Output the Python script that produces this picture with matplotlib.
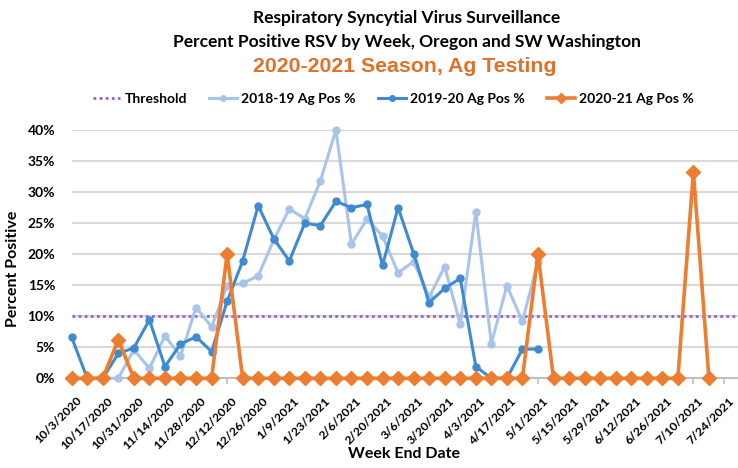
import numpy as np
import matplotlib.pyplot as plt
import matplotlib.transforms as mtransforms
from matplotlib.lines import Line2D
from matplotlib.ticker import PercentFormatter

# week end dates, 10/3/2020 .. 7/24/2021
weeks = ["10/3/2020", "10/10/2020", "10/17/2020", "10/24/2020", "10/31/2020", "11/7/2020",
         "11/14/2020", "11/21/2020", "11/28/2020", "12/5/2020", "12/12/2020", "12/19/2020",
         "12/26/2020", "1/2/2021", "1/9/2021", "1/16/2021", "1/23/2021", "1/30/2021",
         "2/6/2021", "2/13/2021", "2/20/2021", "2/27/2021", "3/6/2021", "3/13/2021",
         "3/20/2021", "3/27/2021", "4/3/2021", "4/10/2021", "4/17/2021", "4/24/2021",
         "5/1/2021", "5/8/2021", "5/15/2021", "5/22/2021", "5/29/2021", "6/5/2021",
         "6/12/2021", "6/19/2021", "6/26/2021", "7/3/2021", "7/10/2021", "7/17/2021",
         "7/24/2021"]

threshold = 10.0

pos_1819 = [None, None, 0.0, 0.0, 4.6, 1.6, 6.8, 3.6, 11.4, 8.3, 14.9, 15.3, 16.5, 22.3,
            27.3, 25.7, 31.8, 40.0, 21.6, 25.7, 22.9, 17.0, 18.8, 13.1, 18.0, 8.7, 26.8,
            5.6, 14.9, 9.2, 18.8]

pos_1920 = [6.6, 0.0, 0.0, 4.0, 4.9, 9.4, 1.9, 5.5, 6.7, 4.3, 12.4, 18.9, 27.8, 22.5,
            18.9, 25.0, 24.6, 28.5, 27.5, 28.0, 18.2, 27.5, 20.1, 12.2, 14.5, 16.1, 1.9,
            0.0, 0.0, 4.7, 4.7]

pos_2021 = [0, 0, 0, 6.25, 0, 0, 0, 0, 0, 0, 20.0, 0, 0, 0, 0, 0, 0, 0, 0, 0, 0, 0, 0,
            0, 0, 0, 0, 0, 0, 0, 20.0, 0, 0, 0, 0, 0, 0, 0, 0, 0, 33.3, 0]

c_light = "#a9c4ea"
c_dark = "#3f8ad0"
c_orange = "#ed7d31"
c_purple = "#9264cc"

plt.rcParams['font.family'] = ['Lato', 'DejaVu Sans']
plt.rcParams['font.weight'] = 'bold'

fig = plt.figure(figsize=(7.38, 4.68), dpi=100)
ax = fig.add_axes([71.7/738, 89.7/468, 1-71.7/738, 248.3/468])

def series(vals):
    y = np.array([np.nan if v is None else v for v in vals], dtype=float)
    return np.arange(len(y)), y

ax.axhline(threshold, color=c_purple, linestyle=(0, (1, 1.2)), linewidth=2, zorder=2)
x, y = series(pos_1819)
ax.plot(x, y, color=c_light, linewidth=2.2, marker='o', markersize=5, zorder=3, clip_on=False)
x, y = series(pos_1920)
ax.plot(x, y, color=c_dark, linewidth=2.2, marker='o', markersize=5, zorder=4, clip_on=False)
x, y = series(pos_2021)
ax.plot(x, y, color=c_orange, linewidth=2.6, marker='D', markersize=7, zorder=5, clip_on=False)

ax.set_xlim(0, 42.87)
ax.set_ylim(0, 40)
ax.yaxis.set_major_formatter(PercentFormatter(decimals=0))
ax.set_yticks(np.arange(0, 41, 5))
ax.grid(axis='y', color='#d9d9d9', linewidth=1.5, zorder=0)
ax.set_axisbelow(True)
for s in ['top', 'right', 'left']:
    ax.spines[s].set_visible(False)
ax.spines['bottom'].set_color('#bfbfbf')
ax.spines['bottom'].set_linewidth(1.5)
ax.tick_params(axis='y', length=0, pad=12, labelsize=10)
ax.set_xticks(np.arange(0, len(weeks), 2))
ax.set_xticklabels(weeks[::2], rotation=45, ha='right', va='top', rotation_mode='anchor',
                   fontsize=8.8)
ax.tick_params(axis='x', length=4, color='#bfbfbf', width=1.2, pad=8)
shift = mtransforms.ScaledTranslation(4/100, 0, fig.dpi_scale_trans)
for lab in ax.get_xticklabels():
    lab.set_transform(lab.get_transform() + shift)
for lab in ax.get_xticklabels() + ax.get_yticklabels():
    lab.set_fontweight('bold')
ax.set_ylabel("Percent Positive", fontsize=11.5, fontweight='bold')
ax.yaxis.set_label_coords(-0.077, 0.44)

fig.text(407/738, 1-18/468, "Respiratory Syncytial Virus Surveillance", ha='center', va='center',
         fontsize=12.5, fontweight='bold')
fig.text(407/738, 1-42/468, "Percent Positive RSV by Week, Oregon and SW Washington",
         ha='center', va='center', fontsize=12.5, fontweight='bold')
fig.text(405/738, 1-67/468, "2020-2021 Season, Ag Testing", ha='center', va='center',
         fontsize=15.3, fontweight='bold', color='#e0702a', family='Liberation Sans')
fig.text(404/738, 1-454/468, "Week End Date", ha='center', va='center', fontsize=11.5,
         fontweight='bold')

handles = [
    Line2D([], [], color=c_purple, linestyle=(0, (1, 1.2)), linewidth=2),
    Line2D([], [], color=c_light, linewidth=2.2, marker='o', markersize=4),
    Line2D([], [], color=c_dark, linewidth=2.2, marker='o', markersize=4),
    Line2D([], [], color=c_orange, linewidth=2.6, marker='D', markersize=5),
]
labels = ["Threshold", "2018-19 Ag Pos %", "2019-20 Ag Pos %", "2020-21 Ag Pos %"]
fig.legend(handles, labels, loc='center', bbox_to_anchor=(393/738, 1-99/468), ncol=4,
           frameon=False, handlelength=2.0, columnspacing=1.6, handletextpad=0.3,
           prop={'weight': 'bold', 'size': 10})

fig.savefig('out.png', dpi=100)
